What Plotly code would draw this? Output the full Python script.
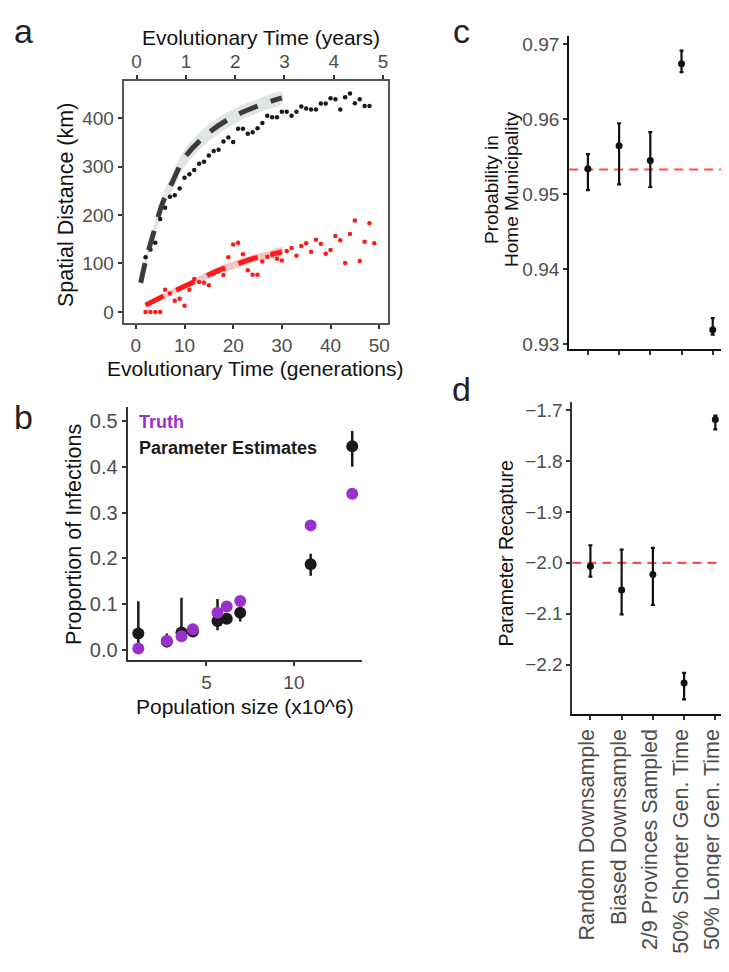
import plotly.graph_objects as go

# ---------------- Panel a data ----------------
gen_black = [2, 3, 4, 5, 6, 7, 8, 9, 10, 11, 12, 13, 14, 15, 16, 17, 18, 19, 20, 21, 22, 23, 24, 25,
             26, 27, 28, 29, 30, 31, 32, 33, 34, 35, 36, 37, 38, 39, 40, 41, 42, 43, 44, 45, 46, 47, 48]
dist_black = [113, 129, 143, 192, 215, 238, 241, 255, 277, 284, 293, 306, 310, 323, 332, 335, 352, 360,
              351, 378, 378, 368, 371, 379, 390, 405, 402, 402, 413, 413, 405, 413, 424, 420, 418, 418,
              430, 430, 441, 439, 418, 443, 451, 431, 439, 425, 425]
gen_red = [2, 3, 4, 5, 6, 7, 8, 9, 10, 11, 12, 13, 14, 15, 16, 17, 18, 19, 20, 21, 22, 23, 24, 25,
           26, 27, 28, 29, 30, 31, 32, 33, 34, 35, 36, 37, 38, 39, 40, 41, 42, 43, 44, 45, 46, 47, 48, 49]
dist_red = [0, 0, 0, 0, 46, 38, 23, 27, 13, 46, 68, 62, 60, 55, 79, 84, 76, 113, 139, 143, 119, 86,
            77, 77, 104, 114, 118, 110, 106, 126, 132, 116, 136, 142, 124, 149, 141, 120, 128, 157,
            148, 101, 161, 189, 105, 145, 183, 142]
fit_black_gen = [1, 2, 3.5, 5.5, 7.5, 10, 15, 20, 25, 30]
fit_black_val = [60, 105, 158, 225, 268, 318, 370, 403, 425, 442]
fit_black_half = [6, 9, 13, 16, 18, 18, 18, 16, 14, 12]
fit_red_gen = [2, 6, 10, 14, 17, 20, 24, 27, 30]
fit_red_val = [14, 34, 53, 72, 86, 96, 110, 117, 124]
fit_red_half = [3, 5, 6, 7, 7, 8, 8, 8, 9]
gen_ticks = [0, 10, 20, 30, 40, 50]
year_ticks = [0, 1, 2, 3, 4, 5]
dist_ticks = [0, 100, 200, 300, 400]

# ---------------- Panel b data ----------------
pop_size = [1.1, 2.73, 3.57, 4.22, 5.63, 6.16, 6.93, 10.96, 13.34]
truth = [0.003, 0.02, 0.03, 0.045, 0.081, 0.095, 0.107, 0.272, 0.341]
estimate = [0.036, 0.018, 0.038, 0.040, 0.063, 0.068, 0.081, 0.187, 0.445]
est_low = [0.005, 0.007, 0.030, 0.035, 0.043, 0.060, 0.062, 0.162, 0.400]
est_high = [0.106, 0.036, 0.114, 0.050, 0.111, 0.078, 0.100, 0.210, 0.478]
prop_ticks = [0.0, 0.1, 0.2, 0.3, 0.4, 0.5]
pop_ticks = [5, 10]

# ---------------- Panels c, d data ----------------
scenarios = ["Random Downsample", "Biased Downsample", "2/9 Provinces Sampled",
             "50% Shorter Gen. Time", "50% Longer Gen. Time"]
home_prob = [0.95336, 0.95643, 0.95445, 0.96736, 0.93190]
home_low = [0.95050, 0.95128, 0.95093, 0.96625, 0.93124]
home_high = [0.95530, 0.95943, 0.95824, 0.96912, 0.93345]
home_true = 0.95326
home_ticks = [0.93, 0.94, 0.95, 0.96, 0.97]
recap = [-2.0065, -2.0533, -2.0227, -2.2356, -1.7188]
recap_low = [-2.027, -2.101, -2.0826, -2.268, -1.738]
recap_high = [-1.9655, -1.974, -1.9707, -2.216, -1.711]
recap_true = -2.0
recap_ticks = [-2.2, -2.1, -2.0, -1.9, -1.8, -1.7]

W, H = 729, 972
FONT = "Liberation Sans, Arial, Helvetica, sans-serif"
TICKC = "#4d4d4d"


def px(x):
    return x / W


def py(y):
    return 1 - y / H


fig = go.Figure()

# ---- Panel a ----
fig.add_trace(go.Scatter(
    x=fit_black_gen + fit_black_gen[::-1],
    y=[v + h for v, h in zip(fit_black_val, fit_black_half)] +
      [v - h for v, h in zip(fit_black_val, fit_black_half)][::-1],
    fill="toself", fillcolor="rgba(205,212,212,0.6)", line=dict(width=0, shape="spline"),
    mode="lines", hoverinfo="skip", showlegend=False, xaxis="x", yaxis="y"))
fig.add_trace(go.Scatter(
    x=fit_red_gen + fit_red_gen[::-1],
    y=[v + h for v, h in zip(fit_red_val, fit_red_half)] +
      [v - h for v, h in zip(fit_red_val, fit_red_half)][::-1],
    fill="toself", fillcolor="rgba(240,160,160,0.6)", line=dict(width=0, shape="spline"),
    mode="lines", hoverinfo="skip", showlegend=False, xaxis="x", yaxis="y"))
fig.add_trace(go.Scatter(x=gen_black, y=dist_black, mode="markers",
                         marker=dict(size=4.5, color="#1a1a1a"), showlegend=False,
                         xaxis="x", yaxis="y"))
fig.add_trace(go.Scatter(x=gen_red, y=dist_red, mode="markers",
                         marker=dict(size=4.5, color="#ff1a1a"), showlegend=False,
                         xaxis="x", yaxis="y"))
fig.add_trace(go.Scatter(x=fit_black_gen, y=fit_black_val, mode="lines",
                         line=dict(color="#3a3a3a", width=5, dash="20px,14px", shape="spline"),
                         showlegend=False, xaxis="x", yaxis="y"))
fig.add_trace(go.Scatter(x=fit_red_gen, y=fit_red_val, mode="lines",
                         line=dict(color="#ff1a1a", width=5, dash="20px,14px", shape="spline"),
                         showlegend=False, xaxis="x", yaxis="y"))
# invisible trace to activate top axis
fig.add_trace(go.Scatter(x=year_ticks, y=[None] * len(year_ticks), mode="markers",
                         showlegend=False, hoverinfo="skip", xaxis="x5", yaxis="y"))

# ---- Panel b ----
fig.add_trace(go.Scatter(
    x=pop_size, y=estimate, mode="markers",
    marker=dict(size=12, color="#1a1a1a"),
    error_y=dict(type="data", symmetric=False,
                 array=[h - e for h, e in zip(est_high, estimate)],
                 arrayminus=[e - l for e, l in zip(estimate, est_low)],
                 color="#1a1a1a", thickness=2.5, width=0),
    showlegend=False, xaxis="x2", yaxis="y2"))
fig.add_trace(go.Scatter(x=pop_size, y=truth, mode="markers",
                         marker=dict(size=12, color="#9932CC"),
                         showlegend=False, xaxis="x2", yaxis="y2"))

# ---- Panel c ----
fig.add_trace(go.Scatter(
    x=scenarios, y=home_prob, mode="markers",
    marker=dict(size=7, color="#111111"),
    error_y=dict(type="data", symmetric=False,
                 array=[h - v for h, v in zip(home_high, home_prob)],
                 arrayminus=[v - l for v, l in zip(home_prob, home_low)],
                 color="#111111", thickness=2.2, width=2),
    showlegend=False, xaxis="x3", yaxis="y3"))

# ---- Panel d ----
fig.add_trace(go.Scatter(
    x=scenarios, y=recap, mode="markers",
    marker=dict(size=7, color="#111111"),
    error_y=dict(type="data", symmetric=False,
                 array=[h - v for h, v in zip(recap_high, recap)],
                 arrayminus=[v - l for v, l in zip(recap, recap_low)],
                 color="#111111", thickness=2.2, width=2),
    showlegend=False, xaxis="x4", yaxis="y4"))

# reference (true value) lines spanning the whole panel width
shapes = [
    dict(type="line", xref="x3 domain", yref="y3", x0=0, x1=1, y0=home_true, y1=home_true,
         line=dict(color="#ff4d4d", width=2.2, dash="9px,6px"), layer="below"),
    dict(type="line", xref="x4 domain", yref="y4", x0=0, x1=1, y0=recap_true, y1=recap_true,
         line=dict(color="#ff4d4d", width=2.2, dash="9px,6px"), layer="below"),
]

tickfont = dict(family=FONT, size=19, color=TICKC)
common = dict(showgrid=False, zeroline=False, showline=True, ticks="outside", ticklen=4,
              tickwidth=1.5, tickcolor="#333333", tickfont=tickfont)

fig.update_layout(
    width=W, height=H, margin=dict(l=0, r=0, t=0, b=0),
    paper_bgcolor="white", plot_bgcolor="white",
    font=dict(family=FONT, color="#1a1a1a"),
    shapes=shapes,
    xaxis=dict(domain=[px(116), px(381)], anchor="y", range=[-2.5, 51.8],
               tickvals=gen_ticks, linecolor="#555555", linewidth=2, mirror=True, **common),
    yaxis=dict(domain=[py(315), py(71)], anchor="x", range=[-23, 476],
               tickvals=dist_ticks, linecolor="#555555", linewidth=2, mirror=True, **common),
    xaxis5=dict(overlaying="x", side="top", anchor="y", range=[-0.263, 5.10],
                tickvals=year_ticks, linecolor="#555555", linewidth=2, **common),
    xaxis2=dict(domain=[px(120), px(355)], anchor="y2", range=[0.49, 13.9],
                tickvals=pop_ticks, linecolor="#333333", linewidth=2, **common),
    yaxis2=dict(domain=[py(655), py(400)], anchor="x2", range=[-0.022, 0.53],
                tickvals=prop_ticks, tickformat=".1f", linecolor="#333333", linewidth=2,
                **{**common, "tickfont": dict(family=FONT, size=20, color=TICKC)}),
    xaxis3=dict(domain=[px(562.7), px(726.7)], anchor="y3", range=[-0.6, 4.64],
                type="category", categoryorder="array", categoryarray=scenarios,
                showticklabels=False, linecolor="#111111", linewidth=2, **common),
    yaxis3=dict(domain=[py(340.7), py(25)], anchor="x3", range=[0.92938, 0.9711],
                tickvals=home_ticks, tickformat=".2f", linecolor="#111111", linewidth=2, **common),
    xaxis4=dict(domain=[px(566), px(726.7)], anchor="y4", range=[-0.575, 4.556],
                type="category", categoryorder="array", categoryarray=scenarios,
                tickangle=-90, linecolor="#111111", linewidth=2, ticklabelshift=-3,
                **{**common, "tickfont": dict(family=FONT, size=21.5, color=TICKC)}),
    yaxis4=dict(domain=[py(710), py(395)], anchor="x4", range=[-2.2975, -1.685],
                tickvals=recap_ticks, tickformat=".1f", linecolor="#333333", linewidth=2, **common),
)

ann = []


def text(x, y, s, size, angle=0, color="#111111", xanchor="center", bold=False):
    ann.append(dict(x=px(x), y=py(y), xref="paper", yref="paper", text=(f"<b>{s}</b>" if bold else s),
                    showarrow=False, textangle=angle, xanchor=xanchor, yanchor="middle",
                    font=dict(family=FONT, size=size, color=color)))


# panel letters
text(16, 20, "a", 34, color="#222222")
text(16, 410, "b", 34, color="#222222")
text(455, 20, "c", 34, color="#222222")
text(455, 382, "d", 34, color="#222222")
# panel a titles
text(254, 27, "Evolutionary Time (years)", 21)
text(248, 361, "Evolutionary Time (generations)", 21)
text(58, 196, "Spatial Distance (km)", 21.5, angle=-90)
# panel b titles
text(238, 702, "Population size (x10^6)", 21)
text(66, 528, "Proportion of Infections", 21.5, angle=-90)
ann.append(dict(x=1.0, y=0.497, xref="x2", yref="y2", text="<b>Truth</b>", showarrow=False,
                xanchor="left", yanchor="middle", font=dict(family=FONT, size=18, color="#9932CC")))
ann.append(dict(x=1.0, y=0.44, xref="x2", yref="y2", text="<b>Parameter Estimates</b>",
                showarrow=False, xanchor="left", yanchor="middle",
                font=dict(family=FONT, size=18, color="#1a1a1a")))
# panel c / d titles
text(485, 180, "Probability in", 19, angle=-90)
text(505, 180, "Home Municipality", 19, angle=-90)
text(499, 548, "Parameter Recapture", 19.5, angle=-90)

fig.update_layout(annotations=ann)
fig.write_html("out.html")
